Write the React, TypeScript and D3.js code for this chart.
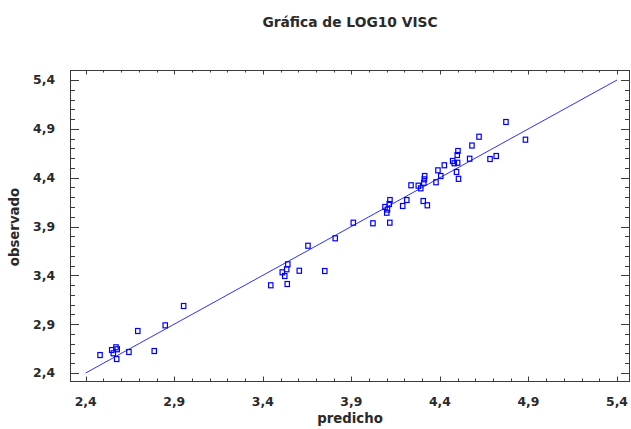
import React from "react";
import * as d3 from "d3";

// Predicted vs observed LOG10 VISC values
const predicho: number[] = [
  2.481, 2.547, 2.556, 2.571, 2.578, 2.575, 2.644, 2.694, 2.787, 2.849, 2.953,
  3.445, 3.538, 3.51, 3.524, 3.535, 3.541, 3.606, 3.75, 3.655, 3.809, 3.911, 4.022, 4.117,
  4.1, 4.09, 4.114, 4.118, 4.104, 4.19, 4.213, 4.237, 4.278, 4.292, 4.309, 4.312, 4.314,
  4.306, 4.329, 4.378, 4.389, 4.405, 4.425, 4.472, 4.481, 4.5, 4.498, 4.502, 4.494, 4.505,
  4.568, 4.581, 4.621, 4.683, 4.718, 4.773, 4.883,
];
const observado: number[] = [
  2.584, 2.635, 2.602, 2.663, 2.643, 2.543, 2.615, 2.83, 2.625, 2.888, 3.086,
  3.298, 3.311, 3.431, 3.393, 3.462, 3.513, 3.447, 3.444, 3.703, 3.779, 3.939, 3.933, 3.939,
  4.041, 4.1, 4.13, 4.171, 4.074, 4.11, 4.171, 4.322, 4.318, 4.291, 4.348, 4.383, 4.417,
  4.161, 4.117, 4.353, 4.475, 4.417, 4.527, 4.571, 4.547, 4.553, 4.632, 4.673, 4.458, 4.388,
  4.594, 4.729, 4.819, 4.591, 4.622, 4.97, 4.789,
];
const majorTicks: number[] = [2.4, 2.9, 3.4, 3.9, 4.4, 4.9, 5.4];
const minorTicks: number[] = d3.range(24, 55).map((v) => v / 10);
const fitLine: [number, number][] = [
  [2.4, 2.4],
  [5.4, 5.4],
];

const W = 631;
const H = 429;
const frame = { left: 70, right: 630, top: 70, bottom: 381 };
const FONT = "'DejaVu Sans', Verdana, sans-serif";
const TEXT = "#2a2a2a";
const AXIS = "#3a3a3a";

const fmt = (v: number) => v.toFixed(1).replace(".", ",");

export default function App() {
  const x = d3.scaleLinear().domain([2.4, 5.4]).range([85.7, 617]);
  const y = d3.scaleLinear().domain([2.4, 5.4]).range([373, 80]);
  const line = d3
    .line<[number, number]>()
    .x((d) => x(d[0]))
    .y((d) => y(d[1]));

  const isMajor = (v: number) => majorTicks.some((m) => Math.abs(m - v) < 1e-6);
  const xMinor = minorTicks.filter((v) => x(v) > frame.left && x(v) < frame.right);
  const yMinor = minorTicks.filter((v) => y(v) > frame.top && y(v) < frame.bottom);

  return (
    <svg
      width={W}
      height={H}
      style={{ position: "absolute", left: 0, top: 0, background: "#fff" }}
    >
      <rect width={W} height={H} fill="#fff" />
      <text
        x={350}
        y={27}
        textAnchor="middle"
        fontFamily={FONT}
        fontWeight="bold"
        fontSize={13.8}
        fill={TEXT}
      >
        Gráfica de LOG10 VISC
      </text>

      {/* frame */}
      <rect
        x={frame.left + 0.5}
        y={frame.top + 0.5}
        width={frame.right - frame.left - 1}
        height={frame.bottom - frame.top}
        fill="none"
        stroke={AXIS}
        strokeWidth={1}
      />

      {/* x ticks: bottom and top, pointing inward */}
      {xMinor.map((v) => {
        const len = isMajor(v) ? 4.5 : 2.5;
        const px = Math.round(x(v)) + 0.5;
        return (
          <g key={"xt" + v}>
            <line x1={px} x2={px} y1={frame.bottom} y2={frame.bottom - len} stroke={AXIS} />
            <line x1={px} x2={px} y1={frame.top} y2={frame.top + len} stroke={AXIS} />
          </g>
        );
      })}
      {/* y ticks: left and right, pointing inward */}
      {yMinor.map((v) => {
        const len = isMajor(v) ? 9 : 5;
        const py = Math.round(y(v)) + 0.5;
        return (
          <g key={"yt" + v}>
            <line x1={frame.left} x2={frame.left + len} y1={py} y2={py} stroke={AXIS} />
            <line x1={frame.right} x2={frame.right - len} y1={py} y2={py} stroke={AXIS} />
          </g>
        );
      })}

      {majorTicks.map((v) => (
        <text
          key={"xl" + v}
          x={x(v)}
          y={406}
          textAnchor="middle"
          fontFamily={FONT}
          fontWeight="bold"
          fontSize={12.4}
          fill={TEXT}
        >
          {fmt(v)}
        </text>
      ))}
      {majorTicks.map((v) => (
        <text
          key={"yl" + v}
          x={55}
          y={y(v)}
          dy="0.36em"
          textAnchor="end"
          fontFamily={FONT}
          fontWeight="bold"
          fontSize={12.4}
          fill={TEXT}
        >
          {fmt(v)}
        </text>
      ))}

      <text
        x={350}
        y={423}
        textAnchor="middle"
        fontFamily={FONT}
        fontWeight="bold"
        fontSize={13.3}
        fill={TEXT}
      >
        predicho
      </text>
      <text
        transform="translate(18.5,227) rotate(-90)"
        textAnchor="middle"
        fontFamily={FONT}
        fontWeight="bold"
        fontSize={13.3}
        fill={TEXT}
      >
        observado
      </text>

      <path d={line(fitLine) ?? ""} fill="none" stroke="#3030ff" strokeWidth={1} />

      {predicho.map((p, i) => (
        <rect
          key={"pt" + i}
          x={x(p) - 2.2}
          y={y(observado[i]) - 2.5}
          width={4.4}
          height={5}
          fill="none"
          stroke="#0000ff"
          strokeWidth={1.2}
        />
      ))}
    </svg>
  );
}
